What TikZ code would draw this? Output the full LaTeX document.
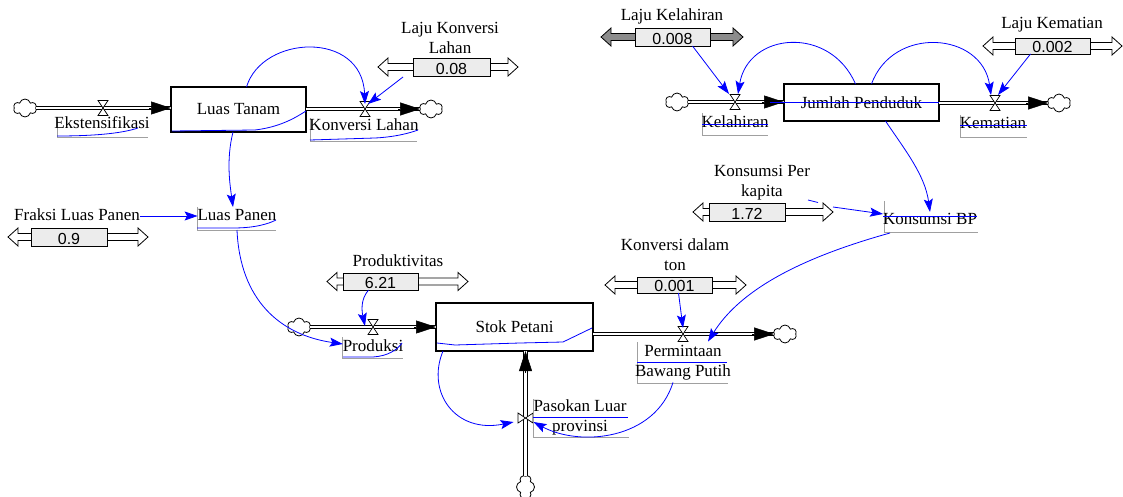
\documentclass[tikz,border=0pt]{standalone}
\usepackage{fontspec}
\setmainfont{Liberation Serif}
\newfontfamily\valfont{Liberation Sans}
\usetikzlibrary{arrows.meta,shapes.symbols,calc}
\definecolor{linkblue}{RGB}{0,0,255}
\definecolor{boxfill}{RGB}{236,236,236}
\definecolor{bracketgray}{RGB}{160,160,160}
\definecolor{darkarrow}{RGB}{140,140,140}
\newcommand\lblfont{\fontsize{17pt}{20pt}\selectfont}
\newcommand\numfont{\valfont\fontsize{16pt}{18pt}\selectfont}

% constant slider: #1 name, #2 box left, #3 box right, #4 box top, #5 box bottom,
% #6 left arrow tip, #7 right arrow tip, #8 value, #9 arrow fill
\newcommand{\constslider}[9]{%
  \pgfmathsetmacro{\slcy}{(#4+#5)/2}%
  \draw[sliderarrow, fill=#9] (#2,\slcy-3.5) -- (#6+10,\slcy-3.5) -- (#6+10,\slcy-9)
     -- (#6,\slcy) -- (#6+10,\slcy+9) -- (#6+10,\slcy+3.5) -- (#2,\slcy+3.5);
  \draw[sliderarrow, fill=#9] (#3,\slcy-3.5) -- (#7-10,\slcy-3.5) -- (#7-10,\slcy-9)
     -- (#7,\slcy) -- (#7-10,\slcy+9) -- (#7-10,\slcy+3.5) -- (#3,\slcy+3.5);
  \node[valbox, minimum width={#3-#2}, minimum height={#5-#4}] (#1) at ({(#2+#3)/2},\slcy) {};
  \node[valtext, anchor=base] (#1-val) at ({(#2+#3)/2},#5-1.5) {#8};
}

\begin{document}
\begin{tikzpicture}[x=1pt,y=-1pt,
  every node/.style={inner sep=0pt, outer sep=0pt},
  lbl/.style={font=\lblfont, text height=12pt, text depth=4pt},
  lbltwo/.style={font=\lblfont, align=center},
  stock/.style={draw, line width=1.2pt, fill=white, font=\lblfont},
  valbox/.style={draw, line width=0.9pt, fill=boxfill},
  valtext/.style={font=\numfont},
  sliderarrow/.style={draw, line width=0.8pt},
  pipe/.style={draw=black, line width=1.1pt, double=white, double distance=2.6pt},
  flowtip/.style={line width=0.5pt, -{Triangle[length=20pt,width=13pt]}},
  link/.style={draw=linkblue, line width=0.8pt, -{Stealth[length=13pt,width=9pt,inset=2.5pt]}},
  blueline/.style={draw=linkblue, line width=0.8pt},
  bracket/.style={draw=bracketgray, line width=0.9pt},
  source/.style={cloud, draw, cloud puffs=6, aspect=1.3, inner sep=0pt,
                 minimum width=23pt, minimum height=18pt, line width=0.8pt, fill=white},
  valve/.pic={\draw[line width=0.7pt, fill=white] (-5,-7.5) -- (5,-7.5) -- (-5,7.5) -- (5,7.5) -- cycle;}
]
\useasboundingbox (0,0) rectangle (1123,497);

% ---------- stocks ----------
\node[stock, minimum width=135pt, minimum height=45pt] (LT) at (238.5,109.5) {Luas Tanam};
\node[stock, minimum width=157pt, minimum height=48pt] (SP) at (514.5,327) {Stok Petani};
\node[stock, minimum width=155pt, minimum height=37pt] (JP) at (861.5,102.5) {Jumlah Penduduk};

% ---------- clouds ----------
\node[source] (c1) at (25,108) {};
\node[source] (c2) at (431,109) {};
\node[source] (c3) at (299,327) {};
\node[source] (c4) at (785,334) {};
\node[source, rotate=90] (c5) at (525.5,487) {};
\node[source] (c6) at (677,102) {};
\node[source] (c7) at (1059,103) {};

% ---------- valves ----------
\coordinate (v1) at (103,108);
\coordinate (v2) at (365,109);
\coordinate (v3) at (373,327);
\coordinate (v4) at (683,334);
\coordinate (v5) at (525.5,418);
\coordinate (v6) at (735,102);
\coordinate (v7) at (995,103);

% ---------- flow pipes ----------
\draw[pipe] (c1.east) -- (c1.east -| LT.west);
\draw[flowtip] ($(c1.east -| LT.west)+(-22,0)$) -- (c1.east -| LT.west);
\draw[pipe] (LT.east |- c2.west) -- (c2.west);
\draw[flowtip] ($(c2.west)+(-22,0)$) -- (c2.west);
\draw[pipe] (c3.east) -- (c3.east -| SP.west);
\draw[flowtip] ($(c3.east -| SP.west)+(-22,0)$) -- (c3.east -| SP.west);
\draw[pipe] (SP.east |- c4.west) -- (c4.west);
\draw[flowtip] ($(c4.west)+(-22,0)$) -- (c4.west);
\draw[pipe] (c5.east) -- (c5.east |- SP.south);
\draw[flowtip] ($(c5.east |- SP.south)+(0,22)$) -- (c5.east |- SP.south);
\draw[pipe] (c6.east) -- (c6.east -| JP.west);
\draw[flowtip] ($(c6.east -| JP.west)+(-22,0)$) -- (c6.east -| JP.west);
\draw[pipe] (JP.east |- c7.west) -- (c7.west);
\draw[flowtip] ($(c7.west)+(-22,0)$) -- (c7.west);

\pic at (v1) {valve};
\pic at (v2) {valve};
\pic at (v3) {valve};
\pic at (v4) {valve};
\pic[rotate=90] at (v5) {valve};
\pic at (v6) {valve};
\pic at (v7) {valve};

% ---------- flow and auxiliary labels ----------
\draw[bracket] (57,117) -- (57,137) -- (148,137);
\node[lbl] (EK) at (102,125) {Ekstensifikasi};
\draw[bracket] (310,118) -- (310,141) -- (417,141);
\node[lbl] (KL) at (364,127) {Konversi Lahan};
\draw[bracket] (197,207) -- (197,230) -- (276,230);
\node[lbl] (LP) at (237,216) {Luas Panen};
\draw[bracket] (342,337) -- (342,358) -- (403,358);
\node[lbl] (PR) at (373,347) {Produksi};
\draw[bracket] (637,342) -- (637,383) -- (728,383);
\node[lbltwo] (PBP) at (683,363) {Permintaan\\Bawang Putih};
\draw[bracket] (533,399) -- (533,437) -- (629,437);
\node[lbltwo] (PLP) at (580,417) {Pasokan Luar\\provinsi};
\draw[bracket] (702,113) -- (702,135) -- (768,135);
\node[lbl] (KEL) at (735,124) {Kelahiran};
\draw[bracket] (960,115) -- (960,137) -- (1027,137);
\node[lbl] (KEM) at (993,125) {Kematian};
\draw[bracket] (884,201) -- (884,232) -- (978,232);
\node[lbl] (KBP) at (930,220) {Konsumsi BP};

% ---------- constants ----------
\node[lbltwo] (LKLt) at (450,38) {Laju Konversi\\Lahan};
\constslider{S1}{413}{490}{58}{76}{378}{518}{0.08}{white}
\node[lbl] (FLPt) at (77,216) {Fraksi Luas Panen};
\constslider{S2}{31}{107}{228}{246}{8}{148}{0.9}{white}
\node[lbl] (PRDt) at (398,262) {Produktivitas};
\constslider{S3}{343}{418}{273}{290}{327}{468}{6.21}{white}
\node[lbltwo] (KDTt) at (675,255) {Konversi dalam\\ton};
\constslider{S4}{637}{712}{277}{293}{605}{746}{0.001}{white}
\node[lbl] (LKHt) at (672,17) {Laju Kelahiran};
\constslider{S5}{635}{710}{28}{46}{601}{743}{0.008}{darkarrow}
\node[lbl] (LKMt) at (1052,25) {Laju Kematian};
\constslider{S6}{1015}{1090}{38}{54}{983}{1122}{0.002}{white}
\node[lbltwo] (KPKt) at (762,183) {Konsumsi Per\\kapita};
\constslider{S7}{709}{785}{203}{221}{693}{833}{1.72}{white}

% ---------- information links ----------
\draw[link] ($(LT.north)+(8,0)$) .. controls (262,35) and (362,30) .. ($(v2)+(0,-5)$);
\draw[link] ($(S1.south west)+(-10,1)$) -- ($(v2)+(3,-5)$);
\draw[link] ($(LT.south)+(-5.5,0)$) .. controls (226,160) and (230,185) .. ($(LP.center)+(-4,-9)$);
\draw[link] (FLPt.east) -- (LP.west);
\draw[link] ($(LP.center)+(0,14)$) .. controls (240,300) and (280,335) .. ($(PR.west)+(0,-3)$);
\draw[link] ($(S3.south)+(-12,0)$) .. controls (360,300) and (362,312) .. ($(v3)+(-8,-1)$);
\draw[link] ($(SP.south west)+(7,0)$) .. controls (426,392) and (455,434) .. ($(v5)+(-12,4)$);
\draw[link] ($(PBP.south)+(-10,2)$) .. controls (655,440) and (580,447) .. ($(v5)+(8,4)$);
\draw[link] ($(S4.south)+(4,0)$) -- ($(v4)+(0,-6)$);
\draw[link] (890,233) .. controls (800,258) and (740,290) .. ($(PBP.north)+(25,-4)$);
\draw[link] ($(S5.south)+(20,0)$) -- ($(v6)+(-6,-8)$);
\draw[link] ($(JP.north)+(-6,0)$) .. controls (830,25) and (748,32) .. ($(v6)+(3,-8)$);
\draw[link] ($(JP.north)+(10,0)$) .. controls (893,25) and (982,32) .. ($(v7)+(-4,-8)$);
\draw[link] ($(S6.south)+(-22,0)$) -- ($(v7)+(3,-8)$);
\draw[link] ($(JP.south)+(24,0)$) .. controls (905,150) and (925,175) .. (KBP.north);
\draw[link] ($(S7.east)+(48,-5)$) -- ($(KBP.west)+(0,-6)$);
\draw[blueline] (808,200) -- (818,202.5);

% ---------- blue highlight traces ----------
\draw[blueline] (57,136) .. controls (90,136) and (120,134) .. (138,128);
\draw[blueline] (172,131) -- (255,130) .. controls (280,127) and (295,118) .. (306,111);
\draw[blueline] (310,140) -- (375,138) .. controls (395,137) and (410,133) .. (418,130);
\draw[blueline] (197,228) -- (233,228) .. controls (255,228) and (268,224) .. (276,220);
\draw[blueline] (343,357) -- (373,357) .. controls (388,356) and (397,350) .. (402,343);
\draw[blueline] (437,343) -- (455,345) -- (520,343) -- (563,342) -- (592,328);
\draw[blueline] (637,362) -- (727,362);
\draw[blueline] (533,417) -- (628,417);
\draw[blueline] (770,102) -- (939,102);
\draw[blueline] (702,124) -- (768,124);
\draw[blueline] (960,125) -- (1027,125);
\draw[blueline] (883,216) -- (977,216);
\end{tikzpicture}
\end{document}
